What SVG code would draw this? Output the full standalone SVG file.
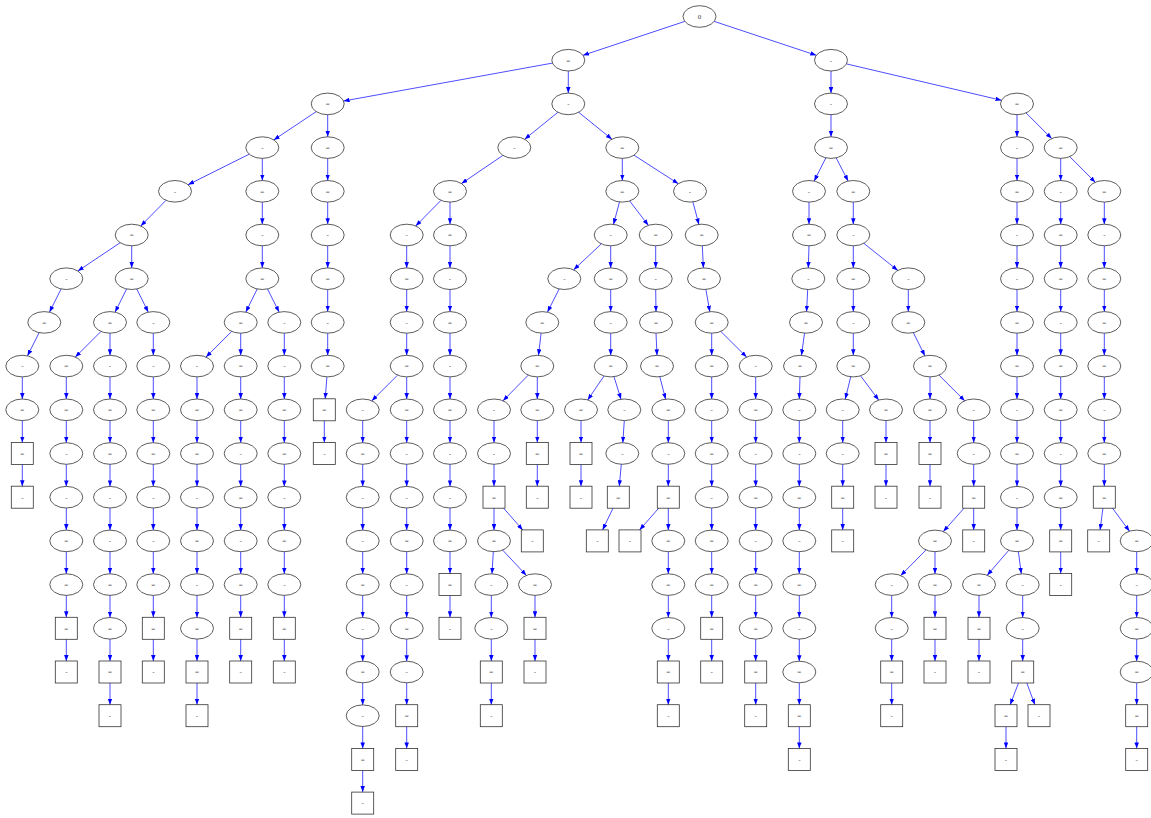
<svg xmlns="http://www.w3.org/2000/svg" width="1151" height="818" viewBox="0 0 1151 818">
<style>
.nd ellipse,.nd rect{fill:none;stroke:#333;stroke-width:.8}
.nd text{font-family:"Liberation Serif",serif;font-size:7px;text-anchor:middle;fill:#444}
#edges path{fill:none;stroke:#0000ff;stroke-width:.7;marker-end:url(#a)}
</style>
<defs>
<marker id="a" viewBox="0 0 6 4.5" refX="6" refY="2.25" markerWidth="6" markerHeight="4.5" markerUnits="userSpaceOnUse" orient="auto"><path d="M0,0L6,2.25L0,4.5z" fill="#0000ff"/></marker>
</defs>
<rect x="0" y="0" width="1151" height="818" fill="#fff"/>
<g id="edges">
<path d="M684.8 21.4L583 55.3"/><path d="M714.2 21.4L816.3 55.3"/><path d="M552.4 63.1L343.6 101"/><path d="M568.3 71V93.1"/><path d="M831 71V93.1"/><path d="M846.5 63.9L1001.5 100.3"/>
<path d="M327.7 114.7V136.8"/><path d="M316.2 111.6L273.8 139.9"/><path d="M557.9 112.3L524.7 139.2"/><path d="M578.7 112.3L611.9 139.2"/><path d="M831 114.7V136.8"/><path d="M1017 114.7V136.8"/><path d="M1026 112.9L1051.7 138.6"/>
<path d="M249.2 154.2L188.1 184.7"/><path d="M262.3 158.4V180.5"/><path d="M327.7 158.4V180.5"/><path d="M502.9 155.4L461.5 183.5"/><path d="M622.3 158.4V180.5"/><path d="M634 155.2L678.3 183.7"/><path d="M825.8 157.9L814.2 181"/><path d="M836.2 157.9L848.1 181"/><path d="M1017 158.4V180.5"/><path d="M1060.7 158.4V180.5"/><path d="M1069.7 156.6L1095.3 182.3"/>
<path d="M166 200.3L140.7 226"/><path d="M262.3 202.1V224.2"/><path d="M327.7 202.1V224.2"/><path d="M441 200.3L415.7 226"/><path d="M450 202.1V224.2"/><path d="M619.5 201.9L613.5 224.4"/><path d="M629.7 201L648.3 225.3"/><path d="M692.9 201.9L698.9 224.4"/><path d="M809 202.1V224.2"/><path d="M853.3 202.1V224.2"/><path d="M1017 202.1V224.2"/><path d="M1060.7 202.1V224.2"/><path d="M1104.3 202.1V224.2"/>
<path d="M120.2 242.7L77.9 271"/><path d="M131.7 245.8V267.9"/><path d="M262.3 245.8V267.9"/><path d="M327.7 245.8V267.9"/><path d="M406.7 245.8V267.9"/><path d="M450 245.8V267.9"/><path d="M601.3 243.9L573.7 269.8"/><path d="M610.7 245.8V267.9"/><path d="M655.7 245.8V267.9"/><path d="M702.3 245.8L703.4 267.9"/><path d="M809 245.8L808.3 267.9"/><path d="M853.3 245.8V267.9"/><path d="M863.8 243.3L897.8 270.4"/><path d="M1017 245.8V267.9"/><path d="M1060.7 245.8V267.9"/><path d="M1104.3 245.8V267.9"/>
<path d="M61.1 289L49.5 312.1"/><path d="M126.6 289L115.1 312.1"/><path d="M136.8 289L148.2 312.1"/><path d="M257.2 289L245.8 312.1"/><path d="M267.5 289L279.1 312.1"/><path d="M327.7 289.5V311.6"/><path d="M406.7 289.5V311.6"/><path d="M450 289.5V311.6"/><path d="M559.1 289L547.5 312.1"/><path d="M610.7 289.5V311.6"/><path d="M655.7 289.5L656 311.6"/><path d="M705.9 289.4L709.8 311.7"/><path d="M807.7 289.5L806.6 311.6"/><path d="M853.3 289.5V311.6"/><path d="M908.3 289.5V311.6"/><path d="M1017 289.5V311.6"/><path d="M1060.7 289.5V311.6"/><path d="M1104.3 289.5V311.6"/>
<path d="M39.1 332.7L27.5 355.8"/><path d="M101 331.4L75.3 357.1"/><path d="M110 333.2V355.3"/><path d="M153.3 333.2V355.3"/><path d="M231.7 331.4L206 357.1"/><path d="M240.7 333.2V355.3"/><path d="M284.3 333.2V355.3"/><path d="M327.7 333.2V355.3"/><path d="M406.7 333.2V355.3"/><path d="M450 333.2V355.3"/><path d="M541.1 333.2L538.5 355.3"/><path d="M610.7 333.2V355.3"/><path d="M656 333.2L657 355.3"/><path d="M711.7 333.2V355.3"/><path d="M720.8 331.4L746.6 357.1"/><path d="M804.5 333.2L801.5 355.3"/><path d="M853.3 333.2V355.3"/><path d="M913.4 332.7L924.9 355.8"/><path d="M1017 333.2V355.3"/><path d="M1060.7 333.2V355.3"/><path d="M1104.3 333.2V355.3"/>
<path d="M22.3 376.9V399"/><path d="M66.3 376.9V399"/><path d="M110 376.9V399"/><path d="M153.3 376.9V399"/><path d="M197 376.9V399"/><path d="M240.7 376.9V399"/><path d="M284.3 376.9V399"/><path d="M326.9 376.9L325.2 398.8"/><path d="M397.6 375.1L371.8 400.8"/><path d="M406.7 376.9V399"/><path d="M450 376.9V399"/><path d="M528.3 375.1L503 400.8"/><path d="M537.3 376.9V399"/><path d="M604 376L587.7 399.9"/><path d="M614 376.7L621 399.2"/><path d="M659.8 376.7L665.6 399.2"/><path d="M711.7 376.9V399"/><path d="M755.7 376.9V399"/><path d="M800 376.9L799.3 399"/><path d="M850.7 376.8L845.3 399.1"/><path d="M860.6 375.8L878.7 400.1"/><path d="M930 376.9V399"/><path d="M939 375.1L964.7 400.8"/><path d="M1017 376.9V399"/><path d="M1060.7 376.9V399"/><path d="M1104.3 376.9V399"/>
<path d="M22.3 420.6V442.5"/><path d="M66.3 420.6V442.7"/><path d="M110 420.6V442.7"/><path d="M153.3 420.6V442.7"/><path d="M197 420.6V442.7"/><path d="M240.7 420.6V442.7"/><path d="M284.3 420.6V442.7"/><path d="M324.3 420.8V442.5"/><path d="M362.7 420.6V442.7"/><path d="M406.7 420.6V442.7"/><path d="M450 420.6V442.7"/><path d="M494 420.6V442.7"/><path d="M537.3 420.6V442.5"/><path d="M581 420.6V442.5"/><path d="M624.3 420.6L622.8 442.7"/><path d="M668.3 420.6V442.7"/><path d="M711.7 420.6V442.7"/><path d="M755.7 420.6V442.7"/><path d="M799.3 420.6V442.7"/><path d="M842.7 420.6V442.7"/><path d="M886 420.6V442.5"/><path d="M930 420.6V442.5"/><path d="M973.7 420.6V442.7"/><path d="M1017 420.6V442.7"/><path d="M1060.7 420.6V442.7"/><path d="M1104.3 420.6V442.7"/>
<path d="M22.3 464.5V486.2"/><path d="M66.3 464.3V486.4"/><path d="M110 464.3V486.4"/><path d="M153.3 464.3V486.4"/><path d="M197 464.3V486.4"/><path d="M240.7 464.3V486.4"/><path d="M284.3 464.3V486.4"/><path d="M362.7 464.3V486.4"/><path d="M406.7 464.3V486.4"/><path d="M450 464.3V486.4"/><path d="M494 464.3V486.2"/><path d="M537.3 464.5V486.2"/><path d="M581 464.5V486.2"/><path d="M621.3 464.3L619.3 486.2"/><path d="M668.3 464.3V486.2"/><path d="M711.7 464.3V486.4"/><path d="M755.7 464.3V486.4"/><path d="M799.3 464.3V486.4"/><path d="M842.7 464.3V486.2"/><path d="M886 464.5V486.2"/><path d="M930 464.5V486.2"/><path d="M973.7 464.3V486.2"/><path d="M1017 464.3V486.4"/><path d="M1060.7 464.3V486.4"/><path d="M1104.3 464.3V486.2"/>
<path d="M66.3 508V530.1"/><path d="M110 508V530.1"/><path d="M153.3 508V530.1"/><path d="M197 508V530.1"/><path d="M240.7 508V530.1"/><path d="M284.3 508V530.1"/><path d="M362.7 508V530.1"/><path d="M406.7 508V530.1"/><path d="M450 508V530.1"/><path d="M494 508.2V530.1"/><path d="M503.6 508.2L522.7 529.9"/><path d="M613 508.2L602.6 529.9"/><path d="M658.7 508.2L639.6 529.9"/><path d="M668.3 508.2V530.1"/><path d="M711.7 508V530.1"/><path d="M755.7 508V530.1"/><path d="M799.3 508V530.1"/><path d="M842.7 508.2V529.9"/><path d="M964 508.2L943.3 531.6"/><path d="M973.7 508.2V529.9"/><path d="M1017 508V530.1"/><path d="M1060.7 508V529.9"/><path d="M1102.9 508.2L1100.1 529.9"/><path d="M1112.5 508.2L1129.5 531.2"/>
<path d="M66.3 551.7V573.8"/><path d="M110 551.7V573.8"/><path d="M153.3 551.7V573.8"/><path d="M197 551.7V573.8"/><path d="M240.7 551.7V573.8"/><path d="M284.3 551.7V573.8"/><path d="M362.7 551.7V573.8"/><path d="M406.7 551.7V573.8"/><path d="M450 551.7V573.6"/><path d="M493.3 551.7L492 573.8"/><path d="M502.6 550.1L526.4 575.4"/><path d="M668.3 551.7V573.8"/><path d="M711.7 551.7V573.8"/><path d="M755.7 551.7V573.8"/><path d="M799.3 551.7V573.8"/><path d="M926 549.9L900.7 575.6"/><path d="M935 551.7V573.8"/><path d="M1008.8 550.3L987.2 575.2"/><path d="M1018.4 551.7L1021.3 573.8"/><path d="M1060.7 551.9V573.6"/><path d="M1136.7 551.7V573.8"/>
<path d="M66.3 595.4V617.3"/><path d="M110 595.4V617.5"/><path d="M153.3 595.4V617.3"/><path d="M197 595.4V617.5"/><path d="M240.7 595.4V617.3"/><path d="M284.3 595.4V617.3"/><path d="M362.7 595.4V617.5"/><path d="M406.7 595.4V617.5"/><path d="M450 595.6V617.3"/><path d="M491.3 595.4V617.5"/><path d="M535 595.4V617.3"/><path d="M668.3 595.4V617.5"/><path d="M711.7 595.4V617.3"/><path d="M755.7 595.4V617.5"/><path d="M799.3 595.4V617.5"/><path d="M891.7 595.4V617.5"/><path d="M935 595.4V617.3"/><path d="M979 595.4V617.3"/><path d="M1022.7 595.4V617.5"/><path d="M1136.7 595.4V617.5"/>
<path d="M66.3 639.3V661"/><path d="M110 639.1V661"/><path d="M153.3 639.3V661"/><path d="M197 639.1V661"/><path d="M240.7 639.3V661"/><path d="M284.3 639.3V661"/><path d="M362.7 639.1V661.2"/><path d="M406.7 639.1V661.2"/><path d="M491.3 639.1V661"/><path d="M535 639.3V661"/><path d="M668.3 639.1V661"/><path d="M711.7 639.3V661"/><path d="M755.7 639.1V661"/><path d="M799.3 639.1V661.2"/><path d="M891.7 639.1V661"/><path d="M935 639.3V661"/><path d="M979 639.3V661"/><path d="M1022.7 639.1V661"/><path d="M1136.7 639.1V661.2"/>
<path d="M110 683V704.7"/><path d="M197 683V704.7"/><path d="M362.7 682.8V704.9"/><path d="M406.7 682.8V704.7"/><path d="M491.3 683V704.7"/><path d="M668.3 683V704.7"/><path d="M755.7 683V704.7"/><path d="M799.3 682.8V704.7"/><path d="M891.7 683V704.7"/><path d="M1018.5 683L1010.2 704.7"/><path d="M1026.8 683L1034.9 704.7"/><path d="M1136.7 682.8V704.7"/>
<path d="M362.7 726.5V748.4"/><path d="M406.7 726.7V748.4"/><path d="M799.3 726.7V748.4"/><path d="M1006 726.7V748.4"/><path d="M1136.7 726.7V748.4"/>
<path d="M362.7 770.4V792.1"/>
</g>
<g id="n0" class="nd"><ellipse cx="699.5" cy="16.5" rx="16.5" ry="10.8"/><text x="699.5" y="19">0</text></g>
<g id="n1" class="nd"><ellipse cx="568.3" cy="60.2" rx="16.5" ry="10.8"/><text x="568.3" y="62.5">=</text></g>
<g id="n2" class="nd"><ellipse cx="831" cy="60.2" rx="16.5" ry="10.8"/><text x="831" y="62.5">-</text></g>
<g id="n3" class="nd"><ellipse cx="327.7" cy="103.9" rx="16.5" ry="10.8"/><text x="327.7" y="106.2">=</text></g>
<g id="n4" class="nd"><ellipse cx="327.7" cy="147.6" rx="16.5" ry="10.8"/><text x="327.7" y="149.9">=</text></g>
<g id="n5" class="nd"><ellipse cx="327.7" cy="191.3" rx="16.5" ry="10.8"/><text x="327.7" y="193.6">=</text></g>
<g id="n6" class="nd"><ellipse cx="327.7" cy="235" rx="16.5" ry="10.8"/><text x="327.7" y="237.3">-</text></g>
<g id="n7" class="nd"><ellipse cx="327.7" cy="278.7" rx="16.5" ry="10.8"/><text x="327.7" y="281">=</text></g>
<g id="n8" class="nd"><ellipse cx="327.7" cy="322.4" rx="16.5" ry="10.8"/><text x="327.7" y="324.7">-</text></g>
<g id="n9" class="nd"><ellipse cx="327.7" cy="366.1" rx="16.5" ry="10.8"/><text x="327.7" y="368.4">=</text></g>
<g id="n10" class="nd"><rect x="313.3" y="398.8" width="22" height="22"/><text x="324.3" y="412.1">=</text></g>
<g id="n11" class="nd"><rect x="313.3" y="442.5" width="22" height="22"/><text x="324.3" y="455.8">-</text></g>
<g id="n12" class="nd"><ellipse cx="568.3" cy="103.9" rx="16.5" ry="10.8"/><text x="568.3" y="106.2">-</text></g>
<g id="n13" class="nd"><ellipse cx="831" cy="103.9" rx="16.5" ry="10.8"/><text x="831" y="106.2">-</text></g>
<g id="n14" class="nd"><ellipse cx="831" cy="147.6" rx="16.5" ry="10.8"/><text x="831" y="149.9">=</text></g>
<g id="n15" class="nd"><ellipse cx="1017" cy="103.9" rx="16.5" ry="10.8"/><text x="1017" y="106.2">=</text></g>
<g id="n16" class="nd"><ellipse cx="1017" cy="147.6" rx="16.5" ry="10.8"/><text x="1017" y="149.9">-</text></g>
<g id="n17" class="nd"><ellipse cx="1017" cy="191.3" rx="16.5" ry="10.8"/><text x="1017" y="193.6">=</text></g>
<g id="n18" class="nd"><ellipse cx="1017" cy="235" rx="16.5" ry="10.8"/><text x="1017" y="237.3">-</text></g>
<g id="n19" class="nd"><ellipse cx="1017" cy="278.7" rx="16.5" ry="10.8"/><text x="1017" y="281">-</text></g>
<g id="n20" class="nd"><ellipse cx="1017" cy="322.4" rx="16.5" ry="10.8"/><text x="1017" y="324.7">=</text></g>
<g id="n21" class="nd"><ellipse cx="1017" cy="366.1" rx="16.5" ry="10.8"/><text x="1017" y="368.4">=</text></g>
<g id="n22" class="nd"><ellipse cx="1017" cy="409.8" rx="16.5" ry="10.8"/><text x="1017" y="412.1">-</text></g>
<g id="n23" class="nd"><ellipse cx="1017" cy="453.5" rx="16.5" ry="10.8"/><text x="1017" y="455.8">=</text></g>
<g id="n24" class="nd"><ellipse cx="1017" cy="497.2" rx="16.5" ry="10.8"/><text x="1017" y="499.5">-</text></g>
<g id="n25" class="nd"><ellipse cx="1017" cy="540.9" rx="16.5" ry="10.8"/><text x="1017" y="543.2">=</text></g>
<g id="n26" class="nd"><ellipse cx="262.3" cy="147.6" rx="16.5" ry="10.8"/><text x="262.3" y="149.9">-</text></g>
<g id="n27" class="nd"><ellipse cx="262.3" cy="191.3" rx="16.5" ry="10.8"/><text x="262.3" y="193.6">=</text></g>
<g id="n28" class="nd"><ellipse cx="262.3" cy="235" rx="16.5" ry="10.8"/><text x="262.3" y="237.3">-</text></g>
<g id="n29" class="nd"><ellipse cx="262.3" cy="278.7" rx="16.5" ry="10.8"/><text x="262.3" y="281">=</text></g>
<g id="n30" class="nd"><ellipse cx="514.3" cy="147.6" rx="16.5" ry="10.8"/><text x="514.3" y="149.9">-</text></g>
<g id="n31" class="nd"><ellipse cx="622.3" cy="147.6" rx="16.5" ry="10.8"/><text x="622.3" y="149.9">=</text></g>
<g id="n32" class="nd"><ellipse cx="622.3" cy="191.3" rx="16.5" ry="10.8"/><text x="622.3" y="193.6">=</text></g>
<g id="n33" class="nd"><ellipse cx="1060.7" cy="147.6" rx="16.5" ry="10.8"/><text x="1060.7" y="149.9">=</text></g>
<g id="n34" class="nd"><ellipse cx="1060.7" cy="191.3" rx="16.5" ry="10.8"/><text x="1060.7" y="193.6">-</text></g>
<g id="n35" class="nd"><ellipse cx="1060.7" cy="235" rx="16.5" ry="10.8"/><text x="1060.7" y="237.3">=</text></g>
<g id="n36" class="nd"><ellipse cx="1060.7" cy="278.7" rx="16.5" ry="10.8"/><text x="1060.7" y="281">=</text></g>
<g id="n37" class="nd"><ellipse cx="1060.7" cy="322.4" rx="16.5" ry="10.8"/><text x="1060.7" y="324.7">-</text></g>
<g id="n38" class="nd"><ellipse cx="1060.7" cy="366.1" rx="16.5" ry="10.8"/><text x="1060.7" y="368.4">=</text></g>
<g id="n39" class="nd"><ellipse cx="1060.7" cy="409.8" rx="16.5" ry="10.8"/><text x="1060.7" y="412.1">=</text></g>
<g id="n40" class="nd"><ellipse cx="1060.7" cy="453.5" rx="16.5" ry="10.8"/><text x="1060.7" y="455.8">-</text></g>
<g id="n41" class="nd"><ellipse cx="1060.7" cy="497.2" rx="16.5" ry="10.8"/><text x="1060.7" y="499.5">=</text></g>
<g id="n42" class="nd"><rect x="1049.7" y="529.9" width="22" height="22"/><text x="1060.7" y="543.2">=</text></g>
<g id="n43" class="nd"><rect x="1049.7" y="573.6" width="22" height="22"/><text x="1060.7" y="586.9">-</text></g>
<g id="n44" class="nd"><ellipse cx="175" cy="191.3" rx="16.5" ry="10.8"/><text x="175" y="193.6">-</text></g>
<g id="n45" class="nd"><ellipse cx="450" cy="191.3" rx="16.5" ry="10.8"/><text x="450" y="193.6">=</text></g>
<g id="n46" class="nd"><ellipse cx="450" cy="235" rx="16.5" ry="10.8"/><text x="450" y="237.3">=</text></g>
<g id="n47" class="nd"><ellipse cx="450" cy="278.7" rx="16.5" ry="10.8"/><text x="450" y="281">-</text></g>
<g id="n48" class="nd"><ellipse cx="450" cy="322.4" rx="16.5" ry="10.8"/><text x="450" y="324.7">=</text></g>
<g id="n49" class="nd"><ellipse cx="450" cy="366.1" rx="16.5" ry="10.8"/><text x="450" y="368.4">-</text></g>
<g id="n50" class="nd"><ellipse cx="450" cy="409.8" rx="16.5" ry="10.8"/><text x="450" y="412.1">=</text></g>
<g id="n51" class="nd"><ellipse cx="450" cy="453.5" rx="16.5" ry="10.8"/><text x="450" y="455.8">-</text></g>
<g id="n52" class="nd"><ellipse cx="450" cy="497.2" rx="16.5" ry="10.8"/><text x="450" y="499.5">-</text></g>
<g id="n53" class="nd"><ellipse cx="450" cy="540.9" rx="16.5" ry="10.8"/><text x="450" y="543.2">=</text></g>
<g id="n54" class="nd"><rect x="439" y="573.6" width="22" height="22"/><text x="450" y="586.9">=</text></g>
<g id="n55" class="nd"><rect x="439" y="617.3" width="22" height="22"/><text x="450" y="630.6">-</text></g>
<g id="n56" class="nd"><ellipse cx="690" cy="191.3" rx="16.5" ry="10.8"/><text x="690" y="193.6">-</text></g>
<g id="n57" class="nd"><ellipse cx="809" cy="191.3" rx="16.5" ry="10.8"/><text x="809" y="193.6">-</text></g>
<g id="n58" class="nd"><ellipse cx="809" cy="235" rx="16.5" ry="10.8"/><text x="809" y="237.3">=</text></g>
<g id="n59" class="nd"><ellipse cx="808.3" cy="278.7" rx="16.5" ry="10.8"/><text x="808.3" y="281">-</text></g>
<g id="n60" class="nd"><ellipse cx="806" cy="322.4" rx="16.5" ry="10.8"/><text x="806" y="324.7">=</text></g>
<g id="n61" class="nd"><ellipse cx="800" cy="366.1" rx="16.5" ry="10.8"/><text x="800" y="368.4">=</text></g>
<g id="n62" class="nd"><ellipse cx="799.3" cy="409.8" rx="16.5" ry="10.8"/><text x="799.3" y="412.1">-</text></g>
<g id="n63" class="nd"><ellipse cx="799.3" cy="453.5" rx="16.5" ry="10.8"/><text x="799.3" y="455.8">-</text></g>
<g id="n64" class="nd"><ellipse cx="799.3" cy="497.2" rx="16.5" ry="10.8"/><text x="799.3" y="499.5">=</text></g>
<g id="n65" class="nd"><ellipse cx="799.3" cy="540.9" rx="16.5" ry="10.8"/><text x="799.3" y="543.2">-</text></g>
<g id="n66" class="nd"><ellipse cx="799.3" cy="584.6" rx="16.5" ry="10.8"/><text x="799.3" y="586.9">=</text></g>
<g id="n67" class="nd"><ellipse cx="799.3" cy="628.3" rx="16.5" ry="10.8"/><text x="799.3" y="630.6">-</text></g>
<g id="n68" class="nd"><ellipse cx="799.3" cy="672" rx="16.5" ry="10.8"/><text x="799.3" y="674.3">=</text></g>
<g id="n69" class="nd"><rect x="788.3" y="704.7" width="22" height="22"/><text x="799.3" y="718">=</text></g>
<g id="n70" class="nd"><rect x="788.3" y="748.4" width="22" height="22"/><text x="799.3" y="761.7">-</text></g>
<g id="n71" class="nd"><ellipse cx="853.3" cy="191.3" rx="16.5" ry="10.8"/><text x="853.3" y="193.6">=</text></g>
<g id="n72" class="nd"><ellipse cx="853.3" cy="235" rx="16.5" ry="10.8"/><text x="853.3" y="237.3">-</text></g>
<g id="n73" class="nd"><ellipse cx="853.3" cy="278.7" rx="16.5" ry="10.8"/><text x="853.3" y="281">=</text></g>
<g id="n74" class="nd"><ellipse cx="853.3" cy="322.4" rx="16.5" ry="10.8"/><text x="853.3" y="324.7">-</text></g>
<g id="n75" class="nd"><ellipse cx="853.3" cy="366.1" rx="16.5" ry="10.8"/><text x="853.3" y="368.4">=</text></g>
<g id="n76" class="nd"><ellipse cx="1104.3" cy="191.3" rx="16.5" ry="10.8"/><text x="1104.3" y="193.6">=</text></g>
<g id="n77" class="nd"><ellipse cx="1104.3" cy="235" rx="16.5" ry="10.8"/><text x="1104.3" y="237.3">-</text></g>
<g id="n78" class="nd"><ellipse cx="1104.3" cy="278.7" rx="16.5" ry="10.8"/><text x="1104.3" y="281">=</text></g>
<g id="n79" class="nd"><ellipse cx="1104.3" cy="322.4" rx="16.5" ry="10.8"/><text x="1104.3" y="324.7">=</text></g>
<g id="n80" class="nd"><ellipse cx="1104.3" cy="366.1" rx="16.5" ry="10.8"/><text x="1104.3" y="368.4">=</text></g>
<g id="n81" class="nd"><ellipse cx="1104.3" cy="409.8" rx="16.5" ry="10.8"/><text x="1104.3" y="412.1">-</text></g>
<g id="n82" class="nd"><ellipse cx="1104.3" cy="453.5" rx="16.5" ry="10.8"/><text x="1104.3" y="455.8">=</text></g>
<g id="n83" class="nd"><rect x="1093.3" y="486.2" width="22" height="22"/><text x="1104.3" y="499.5">=</text></g>
<g id="n84" class="nd"><ellipse cx="131.7" cy="235" rx="16.5" ry="10.8"/><text x="131.7" y="237.3">=</text></g>
<g id="n85" class="nd"><ellipse cx="131.7" cy="278.7" rx="16.5" ry="10.8"/><text x="131.7" y="281">=</text></g>
<g id="n86" class="nd"><ellipse cx="406.7" cy="235" rx="16.5" ry="10.8"/><text x="406.7" y="237.3">-</text></g>
<g id="n87" class="nd"><ellipse cx="406.7" cy="278.7" rx="16.5" ry="10.8"/><text x="406.7" y="281">=</text></g>
<g id="n88" class="nd"><ellipse cx="406.7" cy="322.4" rx="16.5" ry="10.8"/><text x="406.7" y="324.7">-</text></g>
<g id="n89" class="nd"><ellipse cx="406.7" cy="366.1" rx="16.5" ry="10.8"/><text x="406.7" y="368.4">=</text></g>
<g id="n90" class="nd"><ellipse cx="406.7" cy="409.8" rx="16.5" ry="10.8"/><text x="406.7" y="412.1">=</text></g>
<g id="n91" class="nd"><ellipse cx="406.7" cy="453.5" rx="16.5" ry="10.8"/><text x="406.7" y="455.8">-</text></g>
<g id="n92" class="nd"><ellipse cx="406.7" cy="497.2" rx="16.5" ry="10.8"/><text x="406.7" y="499.5">-</text></g>
<g id="n93" class="nd"><ellipse cx="406.7" cy="540.9" rx="16.5" ry="10.8"/><text x="406.7" y="543.2">=</text></g>
<g id="n94" class="nd"><ellipse cx="406.7" cy="584.6" rx="16.5" ry="10.8"/><text x="406.7" y="586.9">-</text></g>
<g id="n95" class="nd"><ellipse cx="406.7" cy="628.3" rx="16.5" ry="10.8"/><text x="406.7" y="630.6">=</text></g>
<g id="n96" class="nd"><ellipse cx="406.7" cy="672" rx="16.5" ry="10.8"/><text x="406.7" y="674.3">-</text></g>
<g id="n97" class="nd"><rect x="395.7" y="704.7" width="22" height="22"/><text x="406.7" y="718">=</text></g>
<g id="n98" class="nd"><rect x="395.7" y="748.4" width="22" height="22"/><text x="406.7" y="761.7">-</text></g>
<g id="n99" class="nd"><ellipse cx="610.7" cy="235" rx="16.5" ry="10.8"/><text x="610.7" y="237.3">-</text></g>
<g id="n100" class="nd"><ellipse cx="610.7" cy="278.7" rx="16.5" ry="10.8"/><text x="610.7" y="281">=</text></g>
<g id="n101" class="nd"><ellipse cx="610.7" cy="322.4" rx="16.5" ry="10.8"/><text x="610.7" y="324.7">-</text></g>
<g id="n102" class="nd"><ellipse cx="610.7" cy="366.1" rx="16.5" ry="10.8"/><text x="610.7" y="368.4">=</text></g>
<g id="n103" class="nd"><ellipse cx="655.7" cy="235" rx="16.5" ry="10.8"/><text x="655.7" y="237.3">=</text></g>
<g id="n104" class="nd"><ellipse cx="655.7" cy="278.7" rx="16.5" ry="10.8"/><text x="655.7" y="281">-</text></g>
<g id="n105" class="nd"><ellipse cx="656" cy="322.4" rx="16.5" ry="10.8"/><text x="656" y="324.7">=</text></g>
<g id="n106" class="nd"><ellipse cx="657" cy="366.1" rx="16.5" ry="10.8"/><text x="657" y="368.4">=</text></g>
<g id="n107" class="nd"><ellipse cx="668.3" cy="409.8" rx="16.5" ry="10.8"/><text x="668.3" y="412.1">=</text></g>
<g id="n108" class="nd"><ellipse cx="668.3" cy="453.5" rx="16.5" ry="10.8"/><text x="668.3" y="455.8">-</text></g>
<g id="n109" class="nd"><rect x="657.3" y="486.2" width="22" height="22"/><text x="668.3" y="499.5">=</text></g>
<g id="n110" class="nd"><ellipse cx="668.3" cy="540.9" rx="16.5" ry="10.8"/><text x="668.3" y="543.2">=</text></g>
<g id="n111" class="nd"><ellipse cx="668.3" cy="584.6" rx="16.5" ry="10.8"/><text x="668.3" y="586.9">=</text></g>
<g id="n112" class="nd"><ellipse cx="668.3" cy="628.3" rx="16.5" ry="10.8"/><text x="668.3" y="630.6">-</text></g>
<g id="n113" class="nd"><rect x="657.3" y="661" width="22" height="22"/><text x="668.3" y="674.3">=</text></g>
<g id="n114" class="nd"><rect x="657.3" y="704.7" width="22" height="22"/><text x="668.3" y="718">-</text></g>
<g id="n115" class="nd"><ellipse cx="701.7" cy="235" rx="16.5" ry="10.8"/><text x="701.7" y="237.3">=</text></g>
<g id="n116" class="nd"><ellipse cx="704" cy="278.7" rx="16.5" ry="10.8"/><text x="704" y="281">=</text></g>
<g id="n117" class="nd"><ellipse cx="711.7" cy="322.4" rx="16.5" ry="10.8"/><text x="711.7" y="324.7">=</text></g>
<g id="n118" class="nd"><ellipse cx="711.7" cy="366.1" rx="16.5" ry="10.8"/><text x="711.7" y="368.4">=</text></g>
<g id="n119" class="nd"><ellipse cx="711.7" cy="409.8" rx="16.5" ry="10.8"/><text x="711.7" y="412.1">-</text></g>
<g id="n120" class="nd"><ellipse cx="711.7" cy="453.5" rx="16.5" ry="10.8"/><text x="711.7" y="455.8">=</text></g>
<g id="n121" class="nd"><ellipse cx="711.7" cy="497.2" rx="16.5" ry="10.8"/><text x="711.7" y="499.5">-</text></g>
<g id="n122" class="nd"><ellipse cx="711.7" cy="540.9" rx="16.5" ry="10.8"/><text x="711.7" y="543.2">=</text></g>
<g id="n123" class="nd"><ellipse cx="711.7" cy="584.6" rx="16.5" ry="10.8"/><text x="711.7" y="586.9">=</text></g>
<g id="n124" class="nd"><rect x="700.7" y="617.3" width="22" height="22"/><text x="711.7" y="630.6">=</text></g>
<g id="n125" class="nd"><rect x="700.7" y="661" width="22" height="22"/><text x="711.7" y="674.3">-</text></g>
<g id="n126" class="nd"><ellipse cx="66.3" cy="278.7" rx="16.5" ry="10.8"/><text x="66.3" y="281">-</text></g>
<g id="n127" class="nd"><ellipse cx="564.3" cy="278.7" rx="16.5" ry="10.8"/><text x="564.3" y="281">-</text></g>
<g id="n128" class="nd"><ellipse cx="542.3" cy="322.4" rx="16.5" ry="10.8"/><text x="542.3" y="324.7">=</text></g>
<g id="n129" class="nd"><ellipse cx="537.3" cy="366.1" rx="16.5" ry="10.8"/><text x="537.3" y="368.4">=</text></g>
<g id="n130" class="nd"><ellipse cx="537.3" cy="409.8" rx="16.5" ry="10.8"/><text x="537.3" y="412.1">=</text></g>
<g id="n131" class="nd"><rect x="526.3" y="442.5" width="22" height="22"/><text x="537.3" y="455.8">=</text></g>
<g id="n132" class="nd"><rect x="526.3" y="486.2" width="22" height="22"/><text x="537.3" y="499.5">-</text></g>
<g id="n133" class="nd"><ellipse cx="908.3" cy="278.7" rx="16.5" ry="10.8"/><text x="908.3" y="281">-</text></g>
<g id="n134" class="nd"><ellipse cx="908.3" cy="322.4" rx="16.5" ry="10.8"/><text x="908.3" y="324.7">=</text></g>
<g id="n135" class="nd"><ellipse cx="44.3" cy="322.4" rx="16.5" ry="10.8"/><text x="44.3" y="324.7">=</text></g>
<g id="n136" class="nd"><ellipse cx="110" cy="322.4" rx="16.5" ry="10.8"/><text x="110" y="324.7">=</text></g>
<g id="n137" class="nd"><ellipse cx="110" cy="366.1" rx="16.5" ry="10.8"/><text x="110" y="368.4">-</text></g>
<g id="n138" class="nd"><ellipse cx="110" cy="409.8" rx="16.5" ry="10.8"/><text x="110" y="412.1">=</text></g>
<g id="n139" class="nd"><ellipse cx="110" cy="453.5" rx="16.5" ry="10.8"/><text x="110" y="455.8">=</text></g>
<g id="n140" class="nd"><ellipse cx="110" cy="497.2" rx="16.5" ry="10.8"/><text x="110" y="499.5">-</text></g>
<g id="n141" class="nd"><ellipse cx="110" cy="540.9" rx="16.5" ry="10.8"/><text x="110" y="543.2">-</text></g>
<g id="n142" class="nd"><ellipse cx="110" cy="584.6" rx="16.5" ry="10.8"/><text x="110" y="586.9">=</text></g>
<g id="n143" class="nd"><ellipse cx="110" cy="628.3" rx="16.5" ry="10.8"/><text x="110" y="630.6">=</text></g>
<g id="n144" class="nd"><rect x="99" y="661" width="22" height="22"/><text x="110" y="674.3">=</text></g>
<g id="n145" class="nd"><rect x="99" y="704.7" width="22" height="22"/><text x="110" y="718">-</text></g>
<g id="n146" class="nd"><ellipse cx="153.3" cy="322.4" rx="16.5" ry="10.8"/><text x="153.3" y="324.7">-</text></g>
<g id="n147" class="nd"><ellipse cx="153.3" cy="366.1" rx="16.5" ry="10.8"/><text x="153.3" y="368.4">-</text></g>
<g id="n148" class="nd"><ellipse cx="153.3" cy="409.8" rx="16.5" ry="10.8"/><text x="153.3" y="412.1">=</text></g>
<g id="n149" class="nd"><ellipse cx="153.3" cy="453.5" rx="16.5" ry="10.8"/><text x="153.3" y="455.8">=</text></g>
<g id="n150" class="nd"><ellipse cx="153.3" cy="497.2" rx="16.5" ry="10.8"/><text x="153.3" y="499.5">-</text></g>
<g id="n151" class="nd"><ellipse cx="153.3" cy="540.9" rx="16.5" ry="10.8"/><text x="153.3" y="543.2">-</text></g>
<g id="n152" class="nd"><ellipse cx="153.3" cy="584.6" rx="16.5" ry="10.8"/><text x="153.3" y="586.9">=</text></g>
<g id="n153" class="nd"><rect x="142.3" y="617.3" width="22" height="22"/><text x="153.3" y="630.6">=</text></g>
<g id="n154" class="nd"><rect x="142.3" y="661" width="22" height="22"/><text x="153.3" y="674.3">-</text></g>
<g id="n155" class="nd"><ellipse cx="240.7" cy="322.4" rx="16.5" ry="10.8"/><text x="240.7" y="324.7">=</text></g>
<g id="n156" class="nd"><ellipse cx="240.7" cy="366.1" rx="16.5" ry="10.8"/><text x="240.7" y="368.4">=</text></g>
<g id="n157" class="nd"><ellipse cx="240.7" cy="409.8" rx="16.5" ry="10.8"/><text x="240.7" y="412.1">=</text></g>
<g id="n158" class="nd"><ellipse cx="240.7" cy="453.5" rx="16.5" ry="10.8"/><text x="240.7" y="455.8">-</text></g>
<g id="n159" class="nd"><ellipse cx="240.7" cy="497.2" rx="16.5" ry="10.8"/><text x="240.7" y="499.5">=</text></g>
<g id="n160" class="nd"><ellipse cx="240.7" cy="540.9" rx="16.5" ry="10.8"/><text x="240.7" y="543.2">-</text></g>
<g id="n161" class="nd"><ellipse cx="240.7" cy="584.6" rx="16.5" ry="10.8"/><text x="240.7" y="586.9">=</text></g>
<g id="n162" class="nd"><rect x="229.7" y="617.3" width="22" height="22"/><text x="240.7" y="630.6">=</text></g>
<g id="n163" class="nd"><rect x="229.7" y="661" width="22" height="22"/><text x="240.7" y="674.3">-</text></g>
<g id="n164" class="nd"><ellipse cx="284.3" cy="322.4" rx="16.5" ry="10.8"/><text x="284.3" y="324.7">-</text></g>
<g id="n165" class="nd"><ellipse cx="284.3" cy="366.1" rx="16.5" ry="10.8"/><text x="284.3" y="368.4">-</text></g>
<g id="n166" class="nd"><ellipse cx="284.3" cy="409.8" rx="16.5" ry="10.8"/><text x="284.3" y="412.1">=</text></g>
<g id="n167" class="nd"><ellipse cx="284.3" cy="453.5" rx="16.5" ry="10.8"/><text x="284.3" y="455.8">=</text></g>
<g id="n168" class="nd"><ellipse cx="284.3" cy="497.2" rx="16.5" ry="10.8"/><text x="284.3" y="499.5">-</text></g>
<g id="n169" class="nd"><ellipse cx="284.3" cy="540.9" rx="16.5" ry="10.8"/><text x="284.3" y="543.2">=</text></g>
<g id="n170" class="nd"><ellipse cx="284.3" cy="584.6" rx="16.5" ry="10.8"/><text x="284.3" y="586.9">-</text></g>
<g id="n171" class="nd"><rect x="273.3" y="617.3" width="22" height="22"/><text x="284.3" y="630.6">=</text></g>
<g id="n172" class="nd"><rect x="273.3" y="661" width="22" height="22"/><text x="284.3" y="674.3">-</text></g>
<g id="n173" class="nd"><ellipse cx="755.7" cy="366.1" rx="16.5" ry="10.8"/><text x="755.7" y="368.4">-</text></g>
<g id="n174" class="nd"><ellipse cx="755.7" cy="409.8" rx="16.5" ry="10.8"/><text x="755.7" y="412.1">=</text></g>
<g id="n175" class="nd"><ellipse cx="755.7" cy="453.5" rx="16.5" ry="10.8"/><text x="755.7" y="455.8">-</text></g>
<g id="n176" class="nd"><ellipse cx="755.7" cy="497.2" rx="16.5" ry="10.8"/><text x="755.7" y="499.5">=</text></g>
<g id="n177" class="nd"><ellipse cx="755.7" cy="540.9" rx="16.5" ry="10.8"/><text x="755.7" y="543.2">-</text></g>
<g id="n178" class="nd"><ellipse cx="755.7" cy="584.6" rx="16.5" ry="10.8"/><text x="755.7" y="586.9">=</text></g>
<g id="n179" class="nd"><ellipse cx="755.7" cy="628.3" rx="16.5" ry="10.8"/><text x="755.7" y="630.6">=</text></g>
<g id="n180" class="nd"><rect x="744.7" y="661" width="22" height="22"/><text x="755.7" y="674.3">=</text></g>
<g id="n181" class="nd"><rect x="744.7" y="704.7" width="22" height="22"/><text x="755.7" y="718">-</text></g>
<g id="n182" class="nd"><ellipse cx="930" cy="366.1" rx="16.5" ry="10.8"/><text x="930" y="368.4">=</text></g>
<g id="n183" class="nd"><ellipse cx="930" cy="409.8" rx="16.5" ry="10.8"/><text x="930" y="412.1">=</text></g>
<g id="n184" class="nd"><rect x="919" y="442.5" width="22" height="22"/><text x="930" y="455.8">=</text></g>
<g id="n185" class="nd"><rect x="919" y="486.2" width="22" height="22"/><text x="930" y="499.5">-</text></g>
<g id="n186" class="nd"><ellipse cx="22.3" cy="366.1" rx="16.5" ry="10.8"/><text x="22.3" y="368.4">-</text></g>
<g id="n187" class="nd"><ellipse cx="22.3" cy="409.8" rx="16.5" ry="10.8"/><text x="22.3" y="412.1">=</text></g>
<g id="n188" class="nd"><rect x="11.3" y="442.5" width="22" height="22"/><text x="22.3" y="455.8">=</text></g>
<g id="n189" class="nd"><rect x="11.3" y="486.2" width="22" height="22"/><text x="22.3" y="499.5">-</text></g>
<g id="n190" class="nd"><ellipse cx="66.3" cy="366.1" rx="16.5" ry="10.8"/><text x="66.3" y="368.4">=</text></g>
<g id="n191" class="nd"><ellipse cx="66.3" cy="409.8" rx="16.5" ry="10.8"/><text x="66.3" y="412.1">=</text></g>
<g id="n192" class="nd"><ellipse cx="66.3" cy="453.5" rx="16.5" ry="10.8"/><text x="66.3" y="455.8">-</text></g>
<g id="n193" class="nd"><ellipse cx="66.3" cy="497.2" rx="16.5" ry="10.8"/><text x="66.3" y="499.5">-</text></g>
<g id="n194" class="nd"><ellipse cx="66.3" cy="540.9" rx="16.5" ry="10.8"/><text x="66.3" y="543.2">=</text></g>
<g id="n195" class="nd"><ellipse cx="66.3" cy="584.6" rx="16.5" ry="10.8"/><text x="66.3" y="586.9">=</text></g>
<g id="n196" class="nd"><rect x="55.3" y="617.3" width="22" height="22"/><text x="66.3" y="630.6">=</text></g>
<g id="n197" class="nd"><rect x="55.3" y="661" width="22" height="22"/><text x="66.3" y="674.3">-</text></g>
<g id="n198" class="nd"><ellipse cx="197" cy="366.1" rx="16.5" ry="10.8"/><text x="197" y="368.4">-</text></g>
<g id="n199" class="nd"><ellipse cx="197" cy="409.8" rx="16.5" ry="10.8"/><text x="197" y="412.1">=</text></g>
<g id="n200" class="nd"><ellipse cx="197" cy="453.5" rx="16.5" ry="10.8"/><text x="197" y="455.8">=</text></g>
<g id="n201" class="nd"><ellipse cx="197" cy="497.2" rx="16.5" ry="10.8"/><text x="197" y="499.5">-</text></g>
<g id="n202" class="nd"><ellipse cx="197" cy="540.9" rx="16.5" ry="10.8"/><text x="197" y="543.2">=</text></g>
<g id="n203" class="nd"><ellipse cx="197" cy="584.6" rx="16.5" ry="10.8"/><text x="197" y="586.9">-</text></g>
<g id="n204" class="nd"><ellipse cx="197" cy="628.3" rx="16.5" ry="10.8"/><text x="197" y="630.6">=</text></g>
<g id="n205" class="nd"><rect x="186" y="661" width="22" height="22"/><text x="197" y="674.3">=</text></g>
<g id="n206" class="nd"><rect x="186" y="704.7" width="22" height="22"/><text x="197" y="718">-</text></g>
<g id="n207" class="nd"><ellipse cx="362.7" cy="409.8" rx="16.5" ry="10.8"/><text x="362.7" y="412.1">-</text></g>
<g id="n208" class="nd"><ellipse cx="362.7" cy="453.5" rx="16.5" ry="10.8"/><text x="362.7" y="455.8">=</text></g>
<g id="n209" class="nd"><ellipse cx="362.7" cy="497.2" rx="16.5" ry="10.8"/><text x="362.7" y="499.5">-</text></g>
<g id="n210" class="nd"><ellipse cx="362.7" cy="540.9" rx="16.5" ry="10.8"/><text x="362.7" y="543.2">-</text></g>
<g id="n211" class="nd"><ellipse cx="362.7" cy="584.6" rx="16.5" ry="10.8"/><text x="362.7" y="586.9">=</text></g>
<g id="n212" class="nd"><ellipse cx="362.7" cy="628.3" rx="16.5" ry="10.8"/><text x="362.7" y="630.6">-</text></g>
<g id="n213" class="nd"><ellipse cx="362.7" cy="672" rx="16.5" ry="10.8"/><text x="362.7" y="674.3">=</text></g>
<g id="n214" class="nd"><ellipse cx="362.7" cy="715.7" rx="16.5" ry="10.8"/><text x="362.7" y="718">-</text></g>
<g id="n215" class="nd"><rect x="351.7" y="748.4" width="22" height="22"/><text x="362.7" y="761.7">=</text></g>
<g id="n216" class="nd"><rect x="351.7" y="792.1" width="22" height="22"/><text x="362.7" y="805.4">-</text></g>
<g id="n217" class="nd"><ellipse cx="494" cy="409.8" rx="16.5" ry="10.8"/><text x="494" y="412.1">-</text></g>
<g id="n218" class="nd"><ellipse cx="494" cy="453.5" rx="16.5" ry="10.8"/><text x="494" y="455.8">-</text></g>
<g id="n219" class="nd"><rect x="483" y="486.2" width="22" height="22"/><text x="494" y="499.5">=</text></g>
<g id="n220" class="nd"><ellipse cx="494" cy="540.9" rx="16.5" ry="10.8"/><text x="494" y="543.2">=</text></g>
<g id="n221" class="nd"><ellipse cx="581" cy="409.8" rx="16.5" ry="10.8"/><text x="581" y="412.1">=</text></g>
<g id="n222" class="nd"><rect x="570" y="442.5" width="22" height="22"/><text x="581" y="455.8">=</text></g>
<g id="n223" class="nd"><rect x="570" y="486.2" width="22" height="22"/><text x="581" y="499.5">-</text></g>
<g id="n224" class="nd"><ellipse cx="624.3" cy="409.8" rx="16.5" ry="10.8"/><text x="624.3" y="412.1">-</text></g>
<g id="n225" class="nd"><ellipse cx="622.3" cy="453.5" rx="16.5" ry="10.8"/><text x="622.3" y="455.8">-</text></g>
<g id="n226" class="nd"><rect x="607.3" y="486.2" width="22" height="22"/><text x="618.3" y="499.5">=</text></g>
<g id="n227" class="nd"><rect x="586.3" y="529.9" width="22" height="22"/><text x="597.3" y="543.2">-</text></g>
<g id="n228" class="nd"><ellipse cx="842.7" cy="409.8" rx="16.5" ry="10.8"/><text x="842.7" y="412.1">-</text></g>
<g id="n229" class="nd"><ellipse cx="842.7" cy="453.5" rx="16.5" ry="10.8"/><text x="842.7" y="455.8">-</text></g>
<g id="n230" class="nd"><rect x="831.7" y="486.2" width="22" height="22"/><text x="842.7" y="499.5">=</text></g>
<g id="n231" class="nd"><rect x="831.7" y="529.9" width="22" height="22"/><text x="842.7" y="543.2">-</text></g>
<g id="n232" class="nd"><ellipse cx="886" cy="409.8" rx="16.5" ry="10.8"/><text x="886" y="412.1">=</text></g>
<g id="n233" class="nd"><rect x="875" y="442.5" width="22" height="22"/><text x="886" y="455.8">=</text></g>
<g id="n234" class="nd"><rect x="875" y="486.2" width="22" height="22"/><text x="886" y="499.5">-</text></g>
<g id="n235" class="nd"><ellipse cx="973.7" cy="409.8" rx="16.5" ry="10.8"/><text x="973.7" y="412.1">-</text></g>
<g id="n236" class="nd"><ellipse cx="973.7" cy="453.5" rx="16.5" ry="10.8"/><text x="973.7" y="455.8">-</text></g>
<g id="n237" class="nd"><rect x="962.7" y="486.2" width="22" height="22"/><text x="973.7" y="499.5">=</text></g>
<g id="n238" class="nd"><rect x="962.7" y="529.9" width="22" height="22"/><text x="973.7" y="543.2">-</text></g>
<g id="n239" class="nd"><rect x="521.3" y="529.9" width="22" height="22"/><text x="532.3" y="543.2">-</text></g>
<g id="n240" class="nd"><rect x="619" y="529.9" width="22" height="22"/><text x="630" y="543.2">-</text></g>
<g id="n241" class="nd"><ellipse cx="935" cy="540.9" rx="16.5" ry="10.8"/><text x="935" y="543.2">=</text></g>
<g id="n242" class="nd"><ellipse cx="935" cy="584.6" rx="16.5" ry="10.8"/><text x="935" y="586.9">=</text></g>
<g id="n243" class="nd"><rect x="924" y="617.3" width="22" height="22"/><text x="935" y="630.6">=</text></g>
<g id="n244" class="nd"><rect x="924" y="661" width="22" height="22"/><text x="935" y="674.3">-</text></g>
<g id="n245" class="nd"><rect x="1087.7" y="529.9" width="22" height="22"/><text x="1098.7" y="543.2">-</text></g>
<g id="n246" class="nd"><ellipse cx="1136.7" cy="540.9" rx="16.5" ry="10.8"/><text x="1136.7" y="543.2">=</text></g>
<g id="n247" class="nd"><ellipse cx="1136.7" cy="584.6" rx="16.5" ry="10.8"/><text x="1136.7" y="586.9">-</text></g>
<g id="n248" class="nd"><ellipse cx="1136.7" cy="628.3" rx="16.5" ry="10.8"/><text x="1136.7" y="630.6">=</text></g>
<g id="n249" class="nd"><ellipse cx="1136.7" cy="672" rx="16.5" ry="10.8"/><text x="1136.7" y="674.3">=</text></g>
<g id="n250" class="nd"><rect x="1125.7" y="704.7" width="22" height="22"/><text x="1136.7" y="718">=</text></g>
<g id="n251" class="nd"><rect x="1125.7" y="748.4" width="22" height="22"/><text x="1136.7" y="761.7">-</text></g>
<g id="n252" class="nd"><ellipse cx="491.3" cy="584.6" rx="16.5" ry="10.8"/><text x="491.3" y="586.9">-</text></g>
<g id="n253" class="nd"><ellipse cx="491.3" cy="628.3" rx="16.5" ry="10.8"/><text x="491.3" y="630.6">-</text></g>
<g id="n254" class="nd"><rect x="480.3" y="661" width="22" height="22"/><text x="491.3" y="674.3">=</text></g>
<g id="n255" class="nd"><rect x="480.3" y="704.7" width="22" height="22"/><text x="491.3" y="718">-</text></g>
<g id="n256" class="nd"><ellipse cx="535" cy="584.6" rx="16.5" ry="10.8"/><text x="535" y="586.9">=</text></g>
<g id="n257" class="nd"><rect x="524" y="617.3" width="22" height="22"/><text x="535" y="630.6">=</text></g>
<g id="n258" class="nd"><rect x="524" y="661" width="22" height="22"/><text x="535" y="674.3">-</text></g>
<g id="n259" class="nd"><ellipse cx="891.7" cy="584.6" rx="16.5" ry="10.8"/><text x="891.7" y="586.9">-</text></g>
<g id="n260" class="nd"><ellipse cx="891.7" cy="628.3" rx="16.5" ry="10.8"/><text x="891.7" y="630.6">-</text></g>
<g id="n261" class="nd"><rect x="880.7" y="661" width="22" height="22"/><text x="891.7" y="674.3">=</text></g>
<g id="n262" class="nd"><rect x="880.7" y="704.7" width="22" height="22"/><text x="891.7" y="718">-</text></g>
<g id="n263" class="nd"><ellipse cx="979" cy="584.6" rx="16.5" ry="10.8"/><text x="979" y="586.9">=</text></g>
<g id="n264" class="nd"><rect x="968" y="617.3" width="22" height="22"/><text x="979" y="630.6">=</text></g>
<g id="n265" class="nd"><rect x="968" y="661" width="22" height="22"/><text x="979" y="674.3">-</text></g>
<g id="n266" class="nd"><ellipse cx="1022.7" cy="584.6" rx="16.5" ry="10.8"/><text x="1022.7" y="586.9">-</text></g>
<g id="n267" class="nd"><ellipse cx="1022.7" cy="628.3" rx="16.5" ry="10.8"/><text x="1022.7" y="630.6">-</text></g>
<g id="n268" class="nd"><rect x="1011.7" y="661" width="22" height="22"/><text x="1022.7" y="674.3">=</text></g>
<g id="n269" class="nd"><rect x="995" y="704.7" width="22" height="22"/><text x="1006" y="718">=</text></g>
<g id="n270" class="nd"><rect x="995" y="748.4" width="22" height="22"/><text x="1006" y="761.7">-</text></g>
<g id="n271" class="nd"><rect x="1028" y="704.7" width="22" height="22"/><text x="1039" y="718">-</text></g>
</svg>
